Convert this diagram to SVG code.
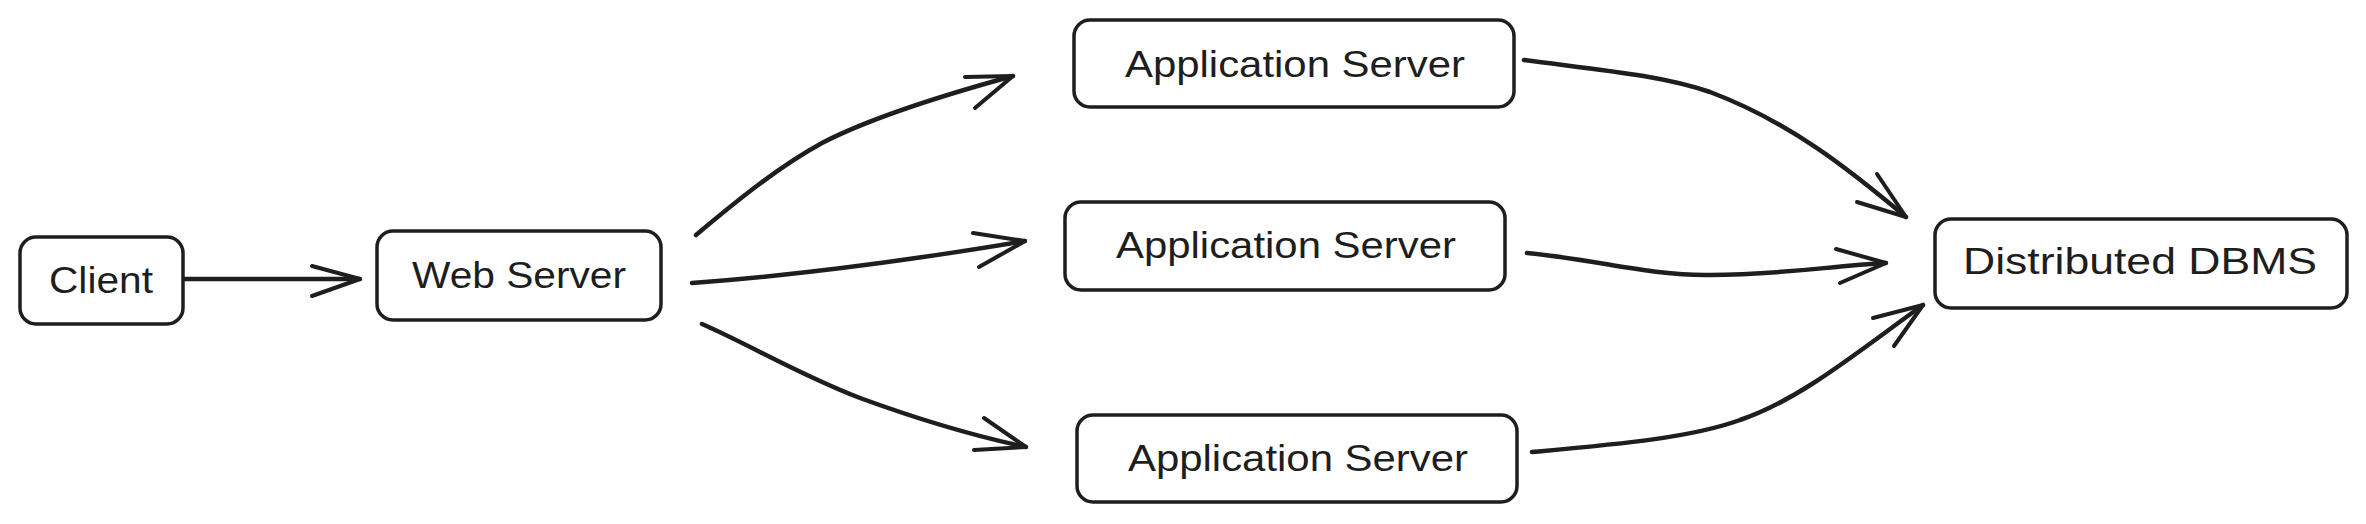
<svg xmlns="http://www.w3.org/2000/svg" width="2366" height="524" viewBox="0 0 2366 524">
<style>
.box{fill:#fff;stroke:#1e1e1e;stroke-width:3.5}
.lbl{font-family:"Liberation Sans","DejaVu Sans",sans-serif;font-size:37px;fill:#1e1e1e;text-anchor:middle;dominant-baseline:central}
.ln{fill:none;stroke:#1e1e1e;stroke-width:4.5;stroke-linecap:round;stroke-linejoin:round}
.hd{fill:none;stroke:#1e1e1e;stroke-width:4;stroke-linecap:round;stroke-linejoin:round}
</style>
<rect width="2366" height="524" fill="#fff"/>
<g id="client"><rect class="box" x="20" y="237" width="163" height="87" rx="16"/><text class="lbl" x="101" y="280" textLength="104" lengthAdjust="spacingAndGlyphs">Client</text></g>
<g id="web-server"><rect class="box" x="377" y="231" width="284" height="89" rx="16"/><text class="lbl" x="519" y="275" textLength="214" lengthAdjust="spacingAndGlyphs">Web Server</text></g>
<g id="app-server-1"><rect class="box" x="1074" y="20" width="440" height="87" rx="16"/><text class="lbl" x="1295" y="64" textLength="340" lengthAdjust="spacingAndGlyphs">Application Server</text></g>
<g id="app-server-2"><rect class="box" x="1065" y="202" width="440" height="88" rx="16"/><text class="lbl" x="1286" y="245" textLength="340" lengthAdjust="spacingAndGlyphs">Application Server</text></g>
<g id="app-server-3"><rect class="box" x="1077" y="415" width="440" height="87" rx="16"/><text class="lbl" x="1298" y="458" textLength="340" lengthAdjust="spacingAndGlyphs">Application Server</text></g>
<g id="dbms"><rect class="box" x="1935" y="219" width="412" height="89" rx="16"/><text class="lbl" x="2140" y="261" textLength="354" lengthAdjust="spacingAndGlyphs">Distributed DBMS</text></g>
<g id="connectors">
<path class="ln" d="M184,279 L360,279"/>
<path class="hd" d="M312,266 L360,279 L312,296"/>
<path class="ln" d="M696,235 C740,198 780,166 822,143 C870,118 940,96 1013,76"/>
<path class="hd" d="M965,77 L1013,76 L975,108"/>
<path class="ln" d="M692,283 C800,275 900,262 1025,241"/>
<path class="hd" d="M973,233 L1025,241 L979,267"/>
<path class="ln" d="M702,324 C750,345 800,375 860,398 C920,420 970,435 1026,447"/>
<path class="hd" d="M984,418 L1026,447 L974,450"/>
<path class="ln" d="M1524,60 C1600,70 1660,75 1710,92 C1790,122 1850,170 1906,217"/>
<path class="hd" d="M1877,174 L1906,217 L1857,202"/>
<path class="ln" d="M1527,253 C1600,260 1650,276 1710,275 C1780,275 1830,266 1886,263"/>
<path class="hd" d="M1836,249 L1886,263 L1840,283"/>
<path class="ln" d="M1532,452 C1620,444 1690,438 1740,420 C1800,400 1860,350 1923,305"/>
<path class="hd" d="M1873,318 L1923,305 L1894,346"/>
</g>
</svg>
